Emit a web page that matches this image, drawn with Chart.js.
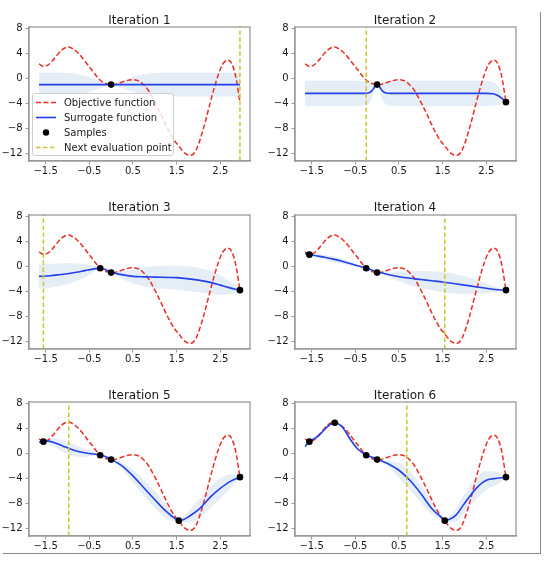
<!DOCTYPE html>
<html><head><meta charset="utf-8">
<script src="https://cdn.jsdelivr.net/npm/chart.js@4.4.1/dist/chart.umd.min.js"></script>
<style>
html,body{margin:0;padding:0;background:#fff;}
body{width:554px;height:562px;position:relative;overflow:hidden;font-family:"DejaVu Sans",sans-serif;}
.cell{position:absolute;}
.ttl{position:absolute;height:14px;line-height:14px;font-size:12px;color:#1a1a1a;text-align:center;white-space:nowrap;}
#frame{position:absolute;left:3px;top:12px;width:537px;height:541px;border-right:1px solid #8a8a8a;border-bottom:1px solid #8a8a8a;box-sizing:content-box;}
.legend{position:absolute;left:32px;top:93px;width:142px;height:63px;background:rgba(255,255,255,0.82);border:1px solid #cfcfcf;border-radius:3px;box-sizing:border-box;padding-top:1px;}
.legend .row{height:15px;line-height:15px;font-size:10px;color:#1a1a1a;white-space:nowrap;position:relative;}
.legend svg{position:absolute;left:2px;top:0;}
.legend span{position:absolute;left:31px;top:0;}
</style></head><body>
<div id="frame"></div>
<div id="plots"></div>
<script>
// ---------- data ----------
const X_MIN = -1.88, X_MAX = 3.18, Y_MIN = -13.2, Y_MAX = 8.2;
const X_TICKS = [-1.5, -0.5, 0.5, 1.5, 2.5];
const Y_TICKS = [-12, -8, -4, 0, 4, 8];
const TITLES = ['Iteration 1', 'Iteration 2', 'Iteration 3', 'Iteration 4', 'Iteration 5', 'Iteration 6'];
const LEGEND_LABELS = ['Objective function', 'Surrogate function', 'Samples', 'Next evaluation point'];

const OBJ_X = [-1.65, -1.55, -1.45, -1.35, -1.25, -1.15, -1.05, -0.97, -0.85, -0.75, -0.65, -0.55, -0.45, -0.35, -0.25, -0.15, -0.05, 0.03, 0.15, 0.25, 0.35, 0.5, 0.65, 0.75, 0.85, 0.95, 1.05, 1.15, 1.25, 1.35, 1.45, 1.55, 1.65, 1.72, 1.8, 1.88, 1.95, 2.05, 2.15, 2.25, 2.35, 2.45, 2.55, 2.67, 2.75, 2.85, 2.95];
const OBJ_Y = [2.3, 1.9, 2.1, 2.75, 3.6, 4.4, 4.88, 5.0, 4.6, 4.0, 3.2, 2.3, 1.4, 0.5, -0.3, -0.75, -0.96, -1.02, -0.85, -0.6, -0.38, -0.22, -0.5, -1.05, -1.9, -3.1, -4.45, -5.9, -7.4, -8.8, -9.95, -10.8, -11.7, -12.1, -12.3, -12.1, -11.4, -9.5, -7.1, -4.4, -1.8, 0.5, 2.2, 2.9, 2.5, 0.4, -3.8];

// surrogate mean and band half-width per iteration
const S1_X = [-1.65, -1.2, -1.0, -0.8, -0.6, -0.4, -0.2, 0, 0.2, 0.4, 0.6, 0.8, 1.0, 1.2, 2.95];
const S1_MEAN = [-1, -1, -1, -1, -1, -1, -1, -1, -1, -1, -1, -1, -1, -1, -1];
const S1_SD = [1.9, 1.9, 1.85, 1.7, 1.4, 0.95, 0.45, 0, 0.45, 0.95, 1.4, 1.7, 1.85, 1.9, 1.9];

const S2_X = [-1.65, -0.5, -0.3, -0.2, -0.12, -0.06, 0, 0.06, 0.12, 0.2, 0.3, 0.5, 2.5, 2.65, 2.75, 2.85, 2.95];
const S2_MEAN = [-2.4, -2.4, -2.4, -2.35, -2.0, -1.4, -1.0, -1.4, -2.0, -2.35, -2.4, -2.4, -2.4, -2.45, -2.7, -3.15, -3.8];
const S2_SD = [2.0, 2.0, 1.95, 1.8, 1.3, 0.6, 0, 0.6, 1.3, 1.8, 1.95, 2.0, 2.0, 1.9, 1.6, 1.0, 0];

const S3_X = [-1.65, -1.4, -1.2, -1.0, -0.8, -0.6, -0.45, -0.35, -0.25, -0.12, 0, 0.15, 0.3, 0.5, 0.75, 1.0, 1.5, 2.0, 2.3, 2.5, 2.7, 2.85, 2.95];
const S3_MEAN = [-1.6, -1.5, -1.35, -1.17, -0.95, -0.68, -0.48, -0.36, -0.3, -0.55, -0.9, -1.2, -1.4, -1.6, -1.68, -1.72, -1.8, -2.2, -2.6, -3.0, -3.4, -3.65, -3.8];
const S3_SD = [1.95, 1.9, 1.8, 1.65, 1.4, 1.05, 0.7, 0.4, 0, 0.12, 0, 0.4, 0.75, 1.15, 1.5, 1.75, 1.95, 1.95, 1.8, 1.55, 1.1, 0.6, 0];

const S4_X = [-1.65, -1.55, -1.4, -1.2, -1.0, -0.8, -0.6, -0.45, -0.25, -0.12, 0, 0.25, 0.5, 0.75, 1.0, 1.25, 1.5, 1.75, 2.0, 2.25, 2.5, 2.7, 2.85, 2.95];
const S4_MEAN = [2.05, 1.9, 1.7, 1.45, 1.15, 0.8, 0.4, 0.1, -0.3, -0.6, -0.88, -1.3, -1.65, -1.9, -2.1, -2.3, -2.5, -2.75, -3.0, -3.25, -3.5, -3.7, -3.78, -3.8];
const S4_SD = [0.2, 0, 0.25, 0.4, 0.45, 0.4, 0.3, 0.2, 0, 0.05, 0, 0.35, 0.75, 1.1, 1.35, 1.5, 1.6, 1.55, 1.4, 1.15, 0.8, 0.45, 0.2, 0];

const S5_X = [-1.65, -1.55, -1.45, -1.3, -1.1, -0.9, -0.7, -0.5, -0.25, -0.12, 0, 0.25, 0.5, 0.75, 1.0, 1.25, 1.45, 1.55, 1.65, 1.8, 2.0, 2.3, 2.5, 2.75, 2.95];
const S5_MEAN = [1.8, 1.87, 1.95, 1.7, 1.15, 0.62, 0.22, -0.02, -0.27, -0.55, -0.96, -2.0, -3.6, -5.5, -7.4, -9.2, -10.35, -10.72, -10.6, -10.0, -9.0, -6.8, -5.6, -4.4, -3.84];
const S5_SD = [0.2, 0, 0.35, 0.7, 0.95, 1.0, 0.8, 0.45, 0, 0.05, 0, 0.55, 1.0, 1.3, 1.35, 1.1, 0.5, 0, 0.45, 1.0, 1.45, 1.7, 1.6, 1.1, 0];

const S6_X = [-1.65, -1.55, -1.4, -1.3, -1.15, -0.97, -0.8, -0.6, -0.45, -0.25, -0.12, 0, 0.25, 0.5, 0.75, 1.0, 1.25, 1.45, 1.55, 1.65, 1.8, 2.0, 2.3, 2.5, 2.75, 2.95];
const S6_MEAN = [1.1, 1.9, 2.5, 3.1, 4.2, 4.88, 4.2, 2.1, 0.74, -0.27, -0.6, -0.92, -1.65, -2.7, -4.3, -6.4, -8.8, -10.1, -10.72, -10.55, -9.9, -8.0, -5.36, -4.3, -3.98, -3.8];
const S6_SD = [0.4, 0, 0.25, 0.3, 0.2, 0, 0.25, 0.35, 0.2, 0, 0.05, 0, 0.4, 1.2, 1.5, 1.4, 1.0, 0.4, 0, 0.4, 1.0, 1.5, 1.7, 1.5, 1.0, 0];

const SAMPLE_X = [0, 2.95, -0.25, -1.55, 1.55, -0.97];
const SAMPLE_Y = [-1.0, -3.8, -0.3, 1.87, -10.75, 4.88];
const NEXT_X = [2.95, -0.25, -1.55, 1.55, -0.97, 0.68];

// ---------- styling / layout ----------
const SURR = [[S1_X, S1_MEAN, S1_SD], [S2_X, S2_MEAN, S2_SD], [S3_X, S3_MEAN, S3_SD], [S4_X, S4_MEAN, S4_SD], [S5_X, S5_MEAN, S5_SD], [S6_X, S6_MEAN, S6_SD]];
const COL_LEFT = [29, 294.5];
const ROW_TOP = [27, 214.5, 402];
const AREA_W = 221, AREA_H = 134, YAX_W = 30, XAX_H = 20, TOP_H = 18, PAD_R = 10;
const RED = 'rgb(235,45,35)', BLUE = 'rgb(35,65,235)', YELLOW = 'rgb(205,198,45)';
const BAND = 'rgba(70,130,200,0.14)', AXIS = '#9a9a9a', TXT = '#1a1a1a';
const FONT = 'DejaVu Sans';

const fmt = v => (v < 0 ? '\u2212' : '') + String(Math.abs(v));

const framePlugin = {
  id: 'boxframe',
  afterDatasetsDraw(chart) {
    const { ctx, chartArea: a } = chart;
    ctx.save();
    ctx.strokeStyle = AXIS; ctx.lineWidth = 1.3;
    ctx.strokeRect(a.left, a.top, a.right - a.left, a.bottom - a.top);
    ctx.restore();
  }
};

const plots = document.getElementById('plots');
for (let i = 0; i < 6; i++) {
  const col = i % 2, row = Math.floor(i / 2);
  const cell = document.createElement('div');
  cell.className = 'cell';
  cell.style.left = (COL_LEFT[col] - YAX_W) + 'px';
  cell.style.top = (ROW_TOP[row] - TOP_H) + 'px';
  const W = YAX_W + AREA_W + PAD_R, H = TOP_H + AREA_H + XAX_H;
  cell.style.width = W + 'px'; cell.style.height = H + 'px';
  const cv = document.createElement('canvas');
  cv.width = W; cv.height = H;
  cv.style.width = W + 'px'; cv.style.height = H + 'px';
  cell.appendChild(cv);
  plots.appendChild(cell);

  const ttl = document.createElement('div');
  ttl.className = 'ttl';
  ttl.style.left = COL_LEFT[col] + 'px';
  ttl.style.width = AREA_W + 'px';
  ttl.style.top = (ROW_TOP[row] - 14.5) + 'px';
  ttl.textContent = TITLES[i];
  plots.appendChild(ttl);

  const [sx, sm, sd] = SURR[i];
  const upper = sx.map((x, j) => ({ x, y: sm[j] + sd[j] }));
  const lower = sx.map((x, j) => ({ x, y: sm[j] - sd[j] }));
  const mean = sx.map((x, j) => ({ x, y: sm[j] }));
  const obj = OBJ_X.map((x, j) => ({ x, y: OBJ_Y[j] }));
  const samples = SAMPLE_X.slice(0, i + 1).map((x, j) => ({ x, y: SAMPLE_Y[j] }));
  const next = [{ x: NEXT_X[i], y: Y_MIN }, { x: NEXT_X[i], y: Y_MAX }];

  new Chart(cv, {
    type: 'line',
    data: {
      datasets: [
        { data: upper, fill: '+1', backgroundColor: BAND, borderWidth: 0, pointRadius: 0, cubicInterpolationMode: 'monotone', order: 5 },
        { data: lower, fill: false, borderWidth: 0, pointRadius: 0, cubicInterpolationMode: 'monotone', order: 5 },
        { data: obj, borderColor: RED, borderWidth: 1.5, borderDash: [5, 2.5], pointRadius: 0, cubicInterpolationMode: 'monotone', fill: false, order: 3 },
        { data: mean, borderColor: BLUE, borderWidth: 1.6, pointRadius: 0, cubicInterpolationMode: 'monotone', fill: false, order: 2 },
        { data: next, borderColor: YELLOW, borderWidth: 1.5, borderDash: [4.5, 2.5], pointRadius: 0, fill: false, order: 1 },
        { data: samples, showLine: false, pointRadius: 3.3, pointBackgroundColor: '#000', pointBorderColor: '#000', pointBorderWidth: 0, order: 0 }
      ]
    },
    options: {
      responsive: false, animation: false, devicePixelRatio: 1,
      layout: { padding: { top: TOP_H, right: PAD_R, left: 0, bottom: 0 } },
      plugins: {
        legend: { display: false }, tooltip: { enabled: false }, title: { display: false }
      },
      scales: {
        x: {
          type: 'linear', min: X_MIN, max: X_MAX,
          afterBuildTicks: s => { s.ticks = X_TICKS.map(v => ({ value: v })); },
          afterFit: s => { s.height = XAX_H; },
          ticks: { callback: v => fmt(v), color: TXT, font: { family: FONT, size: 10 }, padding: 1, maxRotation: 0, autoSkip: false },
          grid: { display: true, drawOnChartArea: false, drawTicks: true, tickLength: 3.5, color: AXIS, lineWidth: 1 },
          border: { display: true, color: AXIS, width: 1.3 }
        },
        y: {
          type: 'linear', min: Y_MIN, max: Y_MAX,
          afterBuildTicks: s => { s.ticks = Y_TICKS.map(v => ({ value: v })); },
          afterFit: s => { s.width = YAX_W; },
          ticks: { callback: v => fmt(v), color: TXT, font: { family: FONT, size: 10 }, padding: 3, autoSkip: false },
          grid: { display: true, drawOnChartArea: false, drawTicks: true, tickLength: 3.5, color: AXIS, lineWidth: 1 },
          border: { display: true, color: AXIS, width: 1.3 }
        }
      }
    },
    plugins: [framePlugin]
  });

  if (i === 0) {
    const lg = document.createElement('div');
    lg.className = 'legend';
    const handles = [
      `<svg width="24" height="15"><line x1="1" y1="7.5" x2="21" y2="7.5" stroke="${RED}" stroke-width="1.5" stroke-dasharray="5,2.5"/></svg>`,
      `<svg width="24" height="15"><line x1="1" y1="7.5" x2="21" y2="7.5" stroke="${BLUE}" stroke-width="1.6"/></svg>`,
      `<svg width="24" height="15"><circle cx="11" cy="7.5" r="3.2" fill="#000"/></svg>`,
      `<svg width="24" height="15"><line x1="1" y1="7.5" x2="21" y2="7.5" stroke="${YELLOW}" stroke-width="1.5" stroke-dasharray="4.5,2.5"/></svg>`
    ];
    lg.innerHTML = LEGEND_LABELS.map((t, k) => `<div class="row">${handles[k]}<span>${t}</span></div>`).join('');
    document.body.appendChild(lg);
  }
}
</script>
</body></html>
